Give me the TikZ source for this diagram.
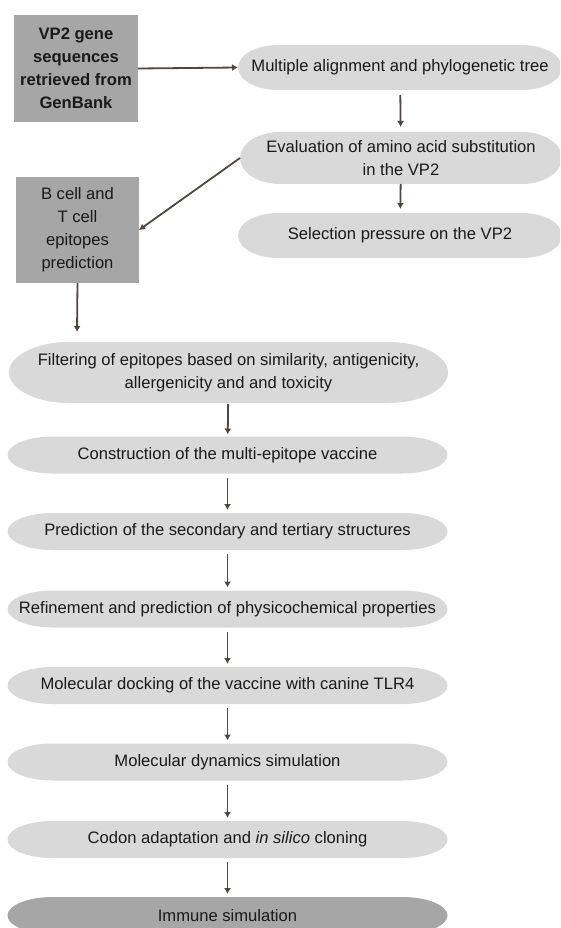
\documentclass[tikz,border=0pt]{standalone}
\usepackage{fontspec}
\setmainfont{Liberation Sans}
\usetikzlibrary{calc,arrows.meta}
\definecolor{boxgray}{HTML}{A6A6A6}
\definecolor{pillgray}{HTML}{D9D9D9}
\definecolor{darkpill}{HTML}{A6A6A6}
\definecolor{arrowc}{HTML}{4D4843}
\definecolor{txt}{HTML}{1A1A1A}
\begin{document}
\begin{tikzpicture}[x=1pt,y=-1pt,
  every node/.style={font=\fontsize{16.6pt}{23pt}\selectfont, text=txt, align=center, inner sep=0pt, outer sep=0pt},
  sqbox/.style 2 args={rectangle, fill=boxgray, minimum width=#1pt, minimum height=#2pt},
  pill/.style n args={4}{rectangle, minimum width=#1pt, minimum height=#2pt,
    path picture={\fill[#3] let \p1=(path picture bounding box.south west), \p2=(path picture bounding box.north east), \n1={(\y2-\y1)/2} in
      (\x1+#4pt,\y1) -- (\x2-#4pt,\y1) arc[start angle=-90,end angle=90,x radius=#4pt,y radius=\n1]
      -- (\x1+#4pt,\y2) arc[start angle=90,end angle=270,x radius=#4pt,y radius=\n1] -- cycle;}},
  flow/.style={draw=arrowc, line width=1.8pt, -{Latex[length=6pt,width=7pt]}}
]
\useasboundingbox (0,0) rectangle (560,928);
\clip (0,0) rectangle (560,928);

\node[sqbox={124}{107}, font=\fontsize{16.6pt}{23pt}\selectfont\bfseries] (gb) at (76,68.5) {VP2 gene\\sequences\\retrieved from\\GenBank};
\node[pill={324}{45}{pillgray}{40}] (mat) at (400,67.5) {Multiple alignment and phylogenetic tree};
\node[pill={322}{52}{pillgray}{40}] (eva) at (401,158) {Evaluation of amino acid substitution\\in the VP2};
\node[pill={324}{45}{pillgray}{40}] (sel) at (400,235.5) {Selection pressure on the VP2};
\node[sqbox={123}{106}] (bt) at (77.5,230) {B cell and\\T cell\\epitopes\\prediction};
\coordinate (btend) at (77,332);

\node[pill={439}{61}{pillgray}{60}] (fil) at (228.5,372.5) {Filtering of epitopes based on similarity, antigenicity,\\allergenicity and and toxicity};
\node[pill={440}{37}{pillgray}{45}] (con) at (227.5,455) {Construction of the multi-epitope vaccine};
\node[pill={440}{37}{pillgray}{45}] (pre) at (227.5,531.5) {Prediction of the secondary and tertiary structures};
\node[pill={440}{37}{pillgray}{45}] (ref) at (227.5,609) {Refinement and prediction of physicochemical properties};
\node[pill={440}{37}{pillgray}{45}] (doc) at (227.5,685.5) {Molecular docking of the vaccine with canine TLR4};
\node[pill={440}{37}{pillgray}{45}] (md) at (227.5,762) {Molecular dynamics simulation};
\node[pill={440}{37}{pillgray}{45}] (cod) at (227.5,839.5) {Codon adaptation and \textit{in silico} cloning};
\node[pill={440}{37}{darkpill}{45}] (imm) at (227.5,915.5) {Immune simulation};

\draw[flow] (gb.east) -- (mat.west);
\draw[flow, shorten <=5pt, shorten >=5pt] (mat) -- (eva);
\draw[flow, shorten >=4pt] (eva) -- (sel);
\draw[flow] (eva.west) -- (bt.east);
\draw[flow] (bt.south) -- (btend);
\draw[flow, shorten <=1pt, shorten >=2pt] (fil) -- (con);
\draw[flow, shorten <=4pt, shorten >=3pt] (con) -- (pre);
\draw[flow, shorten <=4pt, shorten >=3pt] (pre) -- (ref);
\draw[flow, shorten <=4pt, shorten >=3pt] (ref) -- (doc);
\draw[flow, shorten <=4pt, shorten >=3pt] (doc) -- (md);
\draw[flow, shorten <=4pt, shorten >=3pt] (md) -- (cod);
\draw[flow, shorten <=4pt, shorten >=3pt] (cod) -- (imm);
\end{tikzpicture}
\end{document}
